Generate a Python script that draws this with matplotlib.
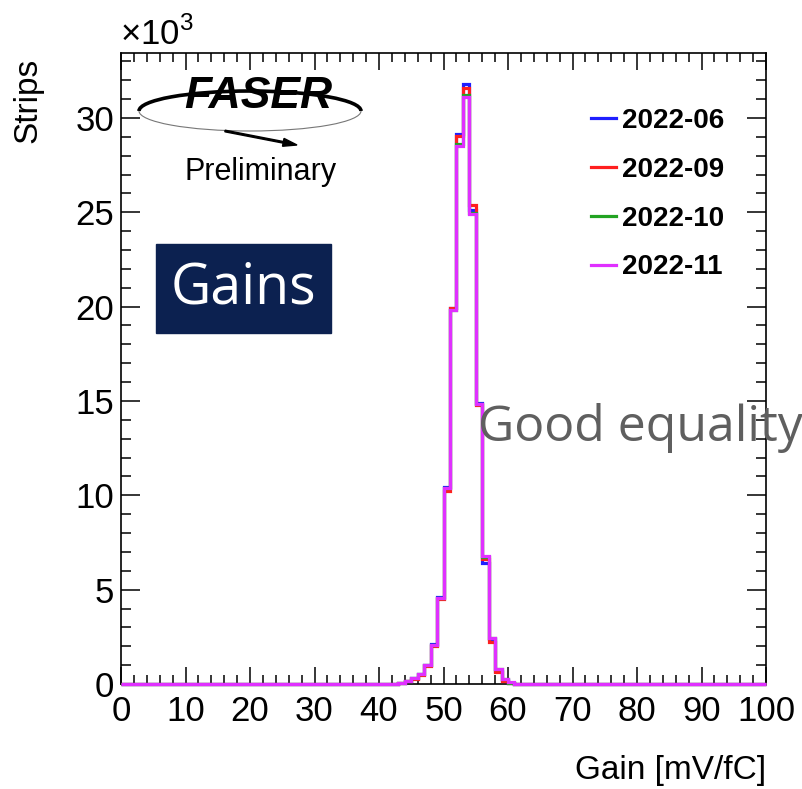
import numpy as np
import matplotlib.pyplot as plt
from matplotlib.lines import Line2D
from matplotlib.patches import Rectangle, Arc, FancyArrow
from matplotlib.ticker import MultipleLocator

W, H = 802, 789

# gain histogram, 1 mV/fC bins from 0 to 100, counts in units of 10^3 strips
bin_edges = np.arange(0, 101, 1)
first_bin = 42  # left edge of the first non-empty bin listed below
series_labels = ["2022-06", "2022-09", "2022-10", "2022-11"]
series_colors = ["#1f1fff", "#ff1f1f", "#22a322", "#e030ff"]

counts_06 = [0.00, 0.06, 0.16, 0.30, 0.52, 1.00, 2.10, 4.60, 10.45, 19.90,
             29.15, 31.80, 25.10, 14.90, 6.40, 2.40, 0.70, 0.22, 0.06, 0.01]
counts_09 = [0.00, 0.05, 0.15, 0.28, 0.50, 0.95, 2.00, 4.50, 10.25, 19.95,
             29.05, 31.60, 25.40, 14.80, 6.65, 2.25, 0.62, 0.18, 0.05, 0.01]
counts_10 = [0.00, 0.07, 0.17, 0.31, 0.53, 1.01, 2.06, 4.56, 10.38, 19.80,
             28.60, 31.20, 24.95, 14.85, 6.75, 2.42, 0.78, 0.26, 0.07, 0.02]
counts_11 = [0.00, 0.07, 0.17, 0.32, 0.53, 1.02, 2.07, 4.57, 10.40, 19.80,
             28.50, 31.10, 24.90, 14.85, 6.80, 2.44, 0.80, 0.28, 0.08, 0.02]

plt.rcParams['font.family'] = ['Liberation Sans', 'DejaVu Sans']
plt.rcParams['mathtext.fontset'] = 'custom'
plt.rcParams['mathtext.rm'] = 'Liberation Sans'


def full_hist(counts):
    """Put the listed bins into the full 0-100 histogram"""
    h = np.zeros(len(bin_edges) - 1)
    h[first_bin:first_bin + len(counts)] = counts
    return h


fig = plt.figure(figsize=(W / 100, H / 100), dpi=100)
ax = fig.add_axes([121 / W, 1 - 684 / H, (766 - 121) / W, (684 - 53) / H])

handles = []
for counts, label, color in zip([counts_06, counts_09, counts_10, counts_11],
                                series_labels, series_colors):
    ax.stairs(full_hist(counts), bin_edges, color=color, lw=2.3,
              zorder=3, clip_on=False)
    handles.append(Line2D([], [], color=color, lw=2.3, label=label))

ax.set_xlim(0, 100)
ax.set_ylim(0, 33.44)
ax.xaxis.set_major_locator(MultipleLocator(10))
ax.xaxis.set_minor_locator(MultipleLocator(2))
ax.yaxis.set_major_locator(MultipleLocator(5))
ax.yaxis.set_minor_locator(MultipleLocator(1))
ax.tick_params(axis='x', which='major', direction='in', top=True, length=12,
               width=1.1, labelsize=25, pad=8)
ax.tick_params(axis='x', which='minor', direction='in', top=True, length=6.5,
               width=1.1)
ax.tick_params(axis='y', which='major', direction='in', right=True, length=14,
               width=1.1, labelsize=25, pad=5)
ax.tick_params(axis='y', which='minor', direction='in', right=True, length=7,
               width=1.1)
for sp in ax.spines.values():
    sp.set_linewidth(1.2)

ax.legend(handles=handles, loc='upper left', frameon=False,
          bbox_to_anchor=(591 / W, 1 - 108 / H), bbox_transform=fig.transFigure,
          borderpad=0, borderaxespad=0, handlelength=0.9, handletextpad=0.2,
          labelspacing=0.82, prop={'weight': 'bold', 'size': 20})

# axis titles in ROOT style
fig.text(766 / W, 1 - 771 / H, "Gain [mV/fC]", ha='right', va='center', fontsize=24)
fig.text(28 / W, 1 - 100 / H, "Strips", ha='center', va='center', rotation=90,
         fontsize=24)
fig.text(120 / W, 1 - 34 / H, r"$\times10^{3}$", ha='left', va='center', fontsize=25)

# overlay in pixel coordinates for the logo and slide annotations
ov = fig.add_axes([0, 0, 1, 1], zorder=5)
ov.set_xlim(0, W)
ov.set_ylim(H, 0)
ov.axis('off')
ov.patch.set_alpha(0)

# FASER logo (approximation)
ov.add_patch(Arc((250, 111), 222, 40, theta1=180, theta2=360, lw=2.6, color='black'))
ov.add_patch(Arc((250, 111), 222, 40, theta1=0, theta2=180, lw=0.8, color='#777777'))
ov.add_patch(FancyArrow(225, 131, 72, 14, width=1.6, head_width=8, head_length=14,
                        length_includes_head=True, color='black'))
ov.text(258, 96, "FASER", ha='center', va='center', fontsize=32,
        fontweight='bold', style='italic', color='black')
ov.text(261, 172, "Preliminary", ha='center', va='center', fontsize=22)

# slide annotations
ov.add_patch(Rectangle((156, 244), 175, 89, color='#0c2150'))
ov.text(243.5, 289, "Gains", ha='center', va='center', fontsize=40,
        color='white', family=['Open Sans', 'DejaVu Sans'])
ov.text(478, 428, "Good equality", ha='left', va='center', fontsize=36,
        color='#5f5f5f', family=['Open Sans', 'DejaVu Sans'])

fig.savefig("out.png", dpi=100)
